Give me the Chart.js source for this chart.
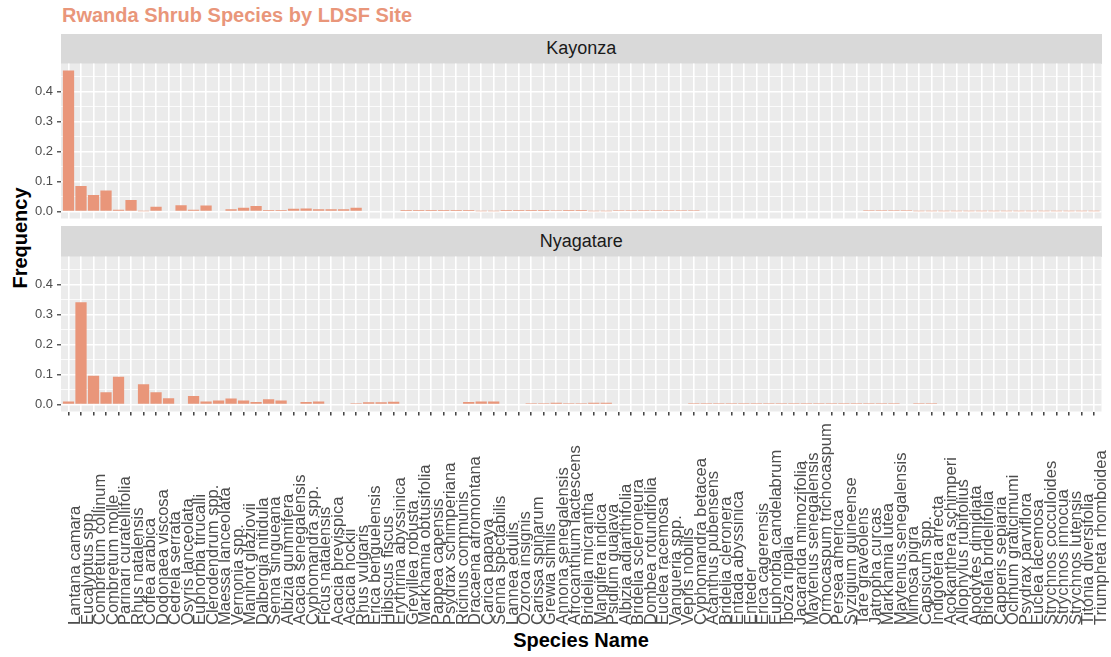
<!DOCTYPE html>
<html>
<head>
<meta charset="utf-8">
<script src="https://cdn.jsdelivr.net/npm/chart.js@4.4.1/dist/chart.umd.min.js"></script>
<style>
  html, body { margin: 0; padding: 0; background: #ffffff; }
  body { width: 1111px; height: 657px; overflow: hidden; position: relative; font-family: "Liberation Sans", Arial, sans-serif; }
  .abs { position: absolute; }
  #title { left: 62px; top: 5px; font-size: 20px; line-height: 20px; font-weight: bold; color: #E9967A; white-space: nowrap; }
  .strip { left: 61px; width: 1040.5px; background: #D9D9D9; color: #1A1A1A; font-size: 18px; display: flex; align-items: center; justify-content: center; }
  #ytitle { left: -40px; top: 226px; width: 120px; height: 24px; line-height: 24px; text-align: center; font-size: 20px; font-weight: bold; color: #000; transform: rotate(-90deg); }
  #xtitle { left: 481px; top: 630px; width: 200px; line-height: 20px; text-align: center; font-size: 20px; font-weight: bold; color: #000; }
  canvas { position: absolute; left: 0; }
</style>
</head>
<body>
<div id="title" class="abs">Rwanda Shrub Species by LDSF Site</div>
<div class="abs strip" style="top:33.5px;height:30px;">Kayonza</div>
<div class="abs strip" style="top:226px;height:30.5px;">Nyagatare</div>
<div id="ytitle" class="abs">Frequency</div>
<div id="xtitle" class="abs">Species Name</div>
<canvas id="cKay" width="1111" height="182" style="top:50px"></canvas>
<canvas id="cNya" width="1111" height="186" style="top:244px"></canvas>
<canvas id="cLab" width="1111" height="239" style="top:418px;left:27px"></canvas>
<script>
const species = [
  "Lantana camara", "Eucalyptus spp.", "Combretum collinum", "Combretum molle", "Parinari curatellifolia",
  "Rhus natalensis", "Coffea arabica", "Dodonaea viscosa", "Cedrela serrata", "Osyris lanceolata",
  "Euphorbia tirucalli", "Clerodendrum spp.", "Maessa lanceolata", "Vernonia spp.", "Manihot glaziovii",
  "Dalbergia nitidula", "Senna singueana", "Albizia gummifera", "Acacia senegalensis", "Cyphomandra spp.",
  "Ficus natalensis", "Acacia brevispica", "Acacia hockii", "Rhus vulgaris", "Erica benguelensis",
  "Hibiscus fiscus", "Erythrina abyssinica", "Grevillea robusta", "Markhamia obtusifolia", "Pappea capensis",
  "Psydrax schimperiana", "Ricinus communis", "Dracaena afromontana", "Carica papaya", "Senna spectabilis",
  "Lannea edulis", "Ozoroa insignis", "Carissa spinarum", "Grewia similis", "Annona senegalensis",
  "Afrocanthium lactescens", "Bridelia micrantha", "Mangifera indica", "Psidium guajava", "Albizia adianthifolia",
  "Bridelia scleroneura", "Dombea rotundifolia", "Euclea racemosa", "Vangueria spp.", "Vepris nobilis",
  "Cyphomandra betacea", "Acanthus pubensens", "Bridelia cleronera", "Entada abyssinica", "Enteder",
  "Erica cagerensis", "Euphorbia candelabrum", "Iboza ripalia", "Jacaranda mimozifolia", "Maytenus senegalensis",
  "Ormocaspum trichocaspum", "Persea america", "Syzigium guineense", "Tare graveolens", "Jatropha curcas",
  "Markhamia lutea", "Maytenus senegalensis", "Mimosa pigra", "Capsicum spp.", "Indigofera arrecta",
  "Acokanthera schimperi", "Allophylus rubifolius", "Apodytes dimidiata", "Bridelia bridelifolia", "Capperis sepiaria",
  "Ocimum graticimumi", "Psydrax parviflora", "Euclea lacemosa", "Strychnos cocculoides", "Strychnos innocua",
  "Strychnos lutensis", "Titonia diversifolia", "Triumpheta rhomboidea"
];

const kayonza = [
  0.470, 0.085, 0.055, 0.070, 0.006, 0.038, 0.001, 0.016, 0, 0.021,
  0.006, 0.020, 0, 0.007, 0.012, 0.018, 0.005, 0.005, 0.009, 0.010,
  0.007, 0.007, 0.007, 0.012, 0, 0, 0.002, 0.005, 0.005, 0.005,
  0.005, 0.005, 0.005, 0.001, 0.001, 0.005, 0.005, 0.005, 0.005, 0.004,
  0.005, 0.005, 0.001, 0.001, 0.004, 0.004, 0.004, 0.004, 0.004, 0.004,
  0.004, 0, 0, 0, 0, 0, 0, 0, 0, 0,
  0, 0, 0, 0, 0.004, 0.004, 0.004, 0.004, 0.001, 0.001,
  0.001, 0.001, 0.001, 0.001, 0.001, 0.001, 0.001, 0.001, 0.001, 0.001,
  0.001, 0.001, 0.001
];

const nyagatare = [
  0.010, 0.341, 0.096, 0.041, 0.092, 0, 0.067, 0.041, 0.021, 0,
  0.028, 0.010, 0.013, 0.020, 0.013, 0.008, 0.017, 0.013, 0, 0.008,
  0.010, 0, 0, 0.004, 0.007, 0.007, 0.009, 0, 0, 0,
  0, 0, 0.008, 0.010, 0.010, 0, 0, 0.004, 0.004, 0.006,
  0.004, 0.004, 0.006, 0.006, 0, 0, 0, 0, 0, 0,
  0.004, 0.004, 0.004, 0.004, 0.004, 0.004, 0.004, 0.004, 0.004, 0.004,
  0.004, 0.004, 0.004, 0.004, 0.004, 0.004, 0.004, 0, 0.004, 0.004,
  0, 0, 0, 0, 0, 0, 0, 0, 0, 0,
  0, 0, 0
];

const yMajorTicks = [0, 0.1, 0.2, 0.3, 0.4];
const yMinorTicks = [0.05, 0.15, 0.25, 0.35, 0.45];

const FONT = '"Liberation Sans", Arial, sans-serif';
const BAR_COLOR = '#E9967A';

const dataMax = Math.max(...kayonza, ...nyagatare);
const yMin = -0.05 * dataMax;
const yMax = 1.05 * dataMax;
const xMin = -0.6;
const xMax = species.length - 1 + 0.6;

const panelBg = {
  id: 'panelBg',
  beforeDraw(chart) {
    const { ctx, chartArea: a } = chart;
    ctx.save();
    ctx.fillStyle = '#EBEBEB';
    ctx.fillRect(a.left, a.top, a.right - a.left, a.bottom - a.top);
    ctx.restore();
  }
};

function setXTicks(axis) { axis.ticks = species.map((_, i) => ({ value: i })); }
function setYTicks(axis) {
  axis.ticks = yMajorTicks.concat(yMinorTicks).sort((a, b) => a - b).map(v => ({ value: v }));
}
const isMajor = v => yMajorTicks.some(m => Math.abs(m - v) < 1e-9);

function panelChart(id, values, showTicks, pad) {
  return new Chart(document.getElementById(id), {
    type: 'bar',
    data: {
      datasets: [{
        data: values.map((v, i) => ({ x: i, y: v })),
        backgroundColor: BAR_COLOR,
        borderWidth: 0,
        categoryPercentage: 0.9,
        barPercentage: 1
      }]
    },
    options: {
      responsive: false,
      animation: false,
      devicePixelRatio: 1,
      layout: { padding: pad },
      plugins: { legend: { display: false }, tooltip: { enabled: false }, title: { display: false } },
      scales: {
        x: {
          type: 'linear', min: xMin, max: xMax, offset: false,
          afterBuildTicks: setXTicks,
          grid: { offset: false, color: '#FFFFFF', lineWidth: 1.6, drawTicks: showTicks, tickLength: 4, tickColor: '#333333', tickWidth: 1.4 },
          border: { display: false },
          ticks: { display: false },
          afterFit: s => { s.height = showTicks ? 4 : 0; }
        },
        y: {
          type: 'linear', min: yMin, max: yMax, beginAtZero: false,
          afterBuildTicks: setYTicks,
          grid: {
            color: '#FFFFFF',
            lineWidth: c => (c.tick && isMajor(c.tick.value)) ? 1.6 : 0.8,
            tickLength: 4,
            tickColor: c => (c.tick && isMajor(c.tick.value)) ? '#333333' : 'rgba(0,0,0,0)',
            tickWidth: 1.2
          },
          border: { display: false },
          ticks: {
            color: '#4D4D4D', padding: 4, autoSkip: false,
            font: { family: FONT, size: 13 },
            callback: v => isMajor(v) ? v.toFixed(1) : ''
          },
          afterFit: s => { s.width = 61; }
        }
      }
    },
    plugins: [panelBg]
  });
}

// Kayonza panel
panelChart('cKay', kayonza, false, { left: 0, right: 9.5, top: 13.5, bottom: 13.5 });
// Nyagatare panel
panelChart('cNya', nyagatare, true, { left: 0, right: 9.5, top: 12.5, bottom: 14.5 });

// Species labels along the same x scale (canvas offset so the text sits just right of each tick)
new Chart(document.getElementById('cLab'), {
  type: 'bar',
  data: { datasets: [] },
  options: {
    responsive: false,
    animation: false,
    devicePixelRatio: 1,
    layout: { padding: { left: 61, right: 9.5, top: 0, bottom: 0 } },
    plugins: { legend: { display: false }, tooltip: { enabled: false } },
    scales: {
      x: {
        type: 'linear', position: 'top', min: xMin, max: xMax, offset: false,
        afterBuildTicks: setXTicks,
        grid: { display: false, drawTicks: false },
        border: { display: false },
        ticks: {
          autoSkip: false, minRotation: 90, maxRotation: 90, padding: 0,
          color: '#4D4D4D', font: { family: FONT, size: 16.5 },
          callback: v => species[v]
        },
        afterFit: s => { s.height = 207; }
      },
      y: { display: false }
    }
  }
});
</script>
</body>
</html>
